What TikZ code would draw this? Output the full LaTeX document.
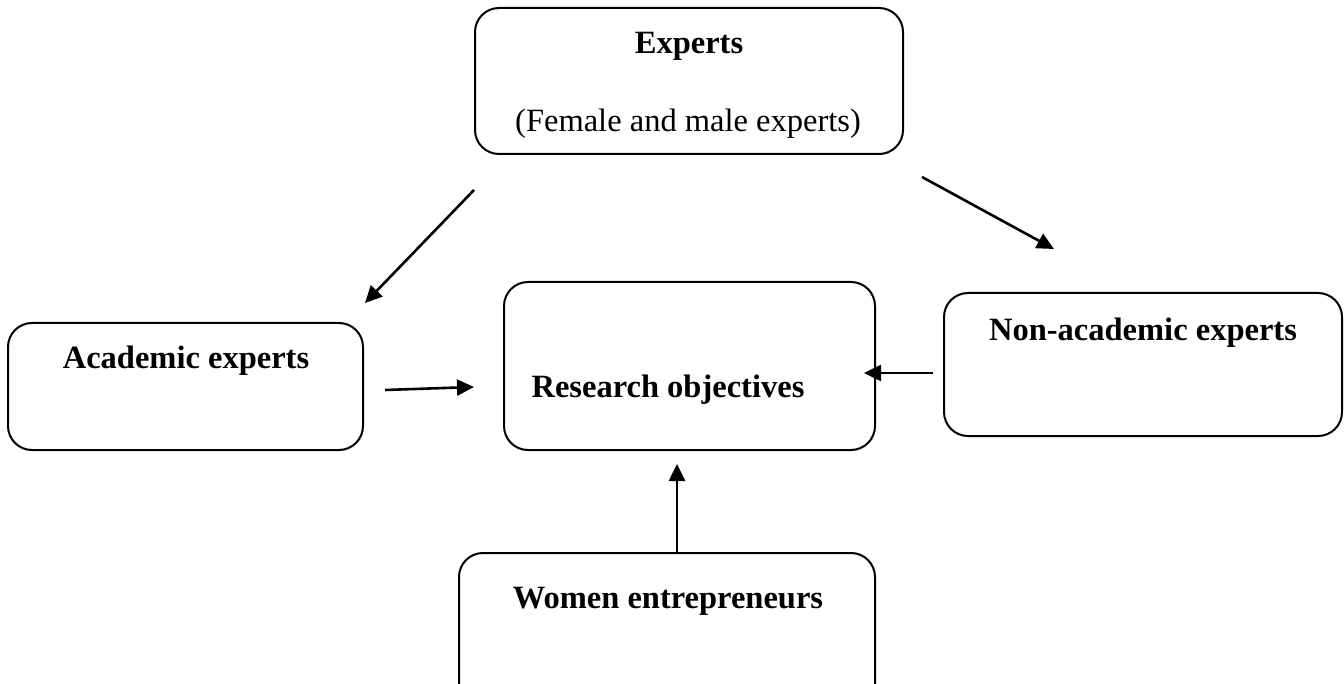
\documentclass[tikz,border=0pt]{standalone}
\usepackage{fontspec}
\setmainfont{Liberation Serif}
\usetikzlibrary{arrows.meta}

\begin{document}
\begin{tikzpicture}[x=1pt, y=-1pt]
  \tikzset{
    box/.style={draw=black, line width=2pt, rounded corners=24pt},
    lbl/.style={inner sep=0pt, font=\fontsize{32.5}{38}\selectfont\bfseries},
    sub/.style={inner sep=0pt, font=\fontsize{32.5}{38}\selectfont},
    arr/.style={-{Triangle[length=17pt, width=16pt]}, line width=2.6pt},
  }

  \useasboundingbox (0,0) rectangle (1344,684);

  % boxes
  \draw[box] (475,8) rectangle (903,154);
  \draw[box] (8,323) rectangle (363,450);
  \draw[box] (504,282) rectangle (875,450);
  \draw[box] (944,293) rectangle (1342,436);
  \draw[box] (459,553) rectangle (875,720);

  % texts
  \node[lbl] (experts) at (689,46) {Experts};
  \node[sub] (female) at (688,124) {(Female and male experts)};
  \node[lbl] (academic) at (186,361) {Academic experts};
  \node[lbl] (research) at (668,390) {Research objectives};
  \node[lbl] (nonacad) at (1143,333) {Non-academic experts};
  \node[lbl] (women) at (668,601) {Women entrepreneurs};

  % arrow ends
  \coordinate (e1) at (474,190);
  \coordinate (a1) at (365,303);
  \coordinate (e2) at (922,177);
  \coordinate (n1) at (1054,249);
  \coordinate (a2) at (385,390);
  \coordinate (r1) at (474,387);
  \coordinate (n2) at (933,373);
  \coordinate (r2) at (864,373);
  \coordinate (w1) at (677,552);
  \coordinate (r3) at (677,464);

  \foreach \s/\t in {e1/a1, e2/n1, a2/r1, n2/r2, w1/r3}
    \draw[arr] (\s) -- (\t);
\end{tikzpicture}
\end{document}
